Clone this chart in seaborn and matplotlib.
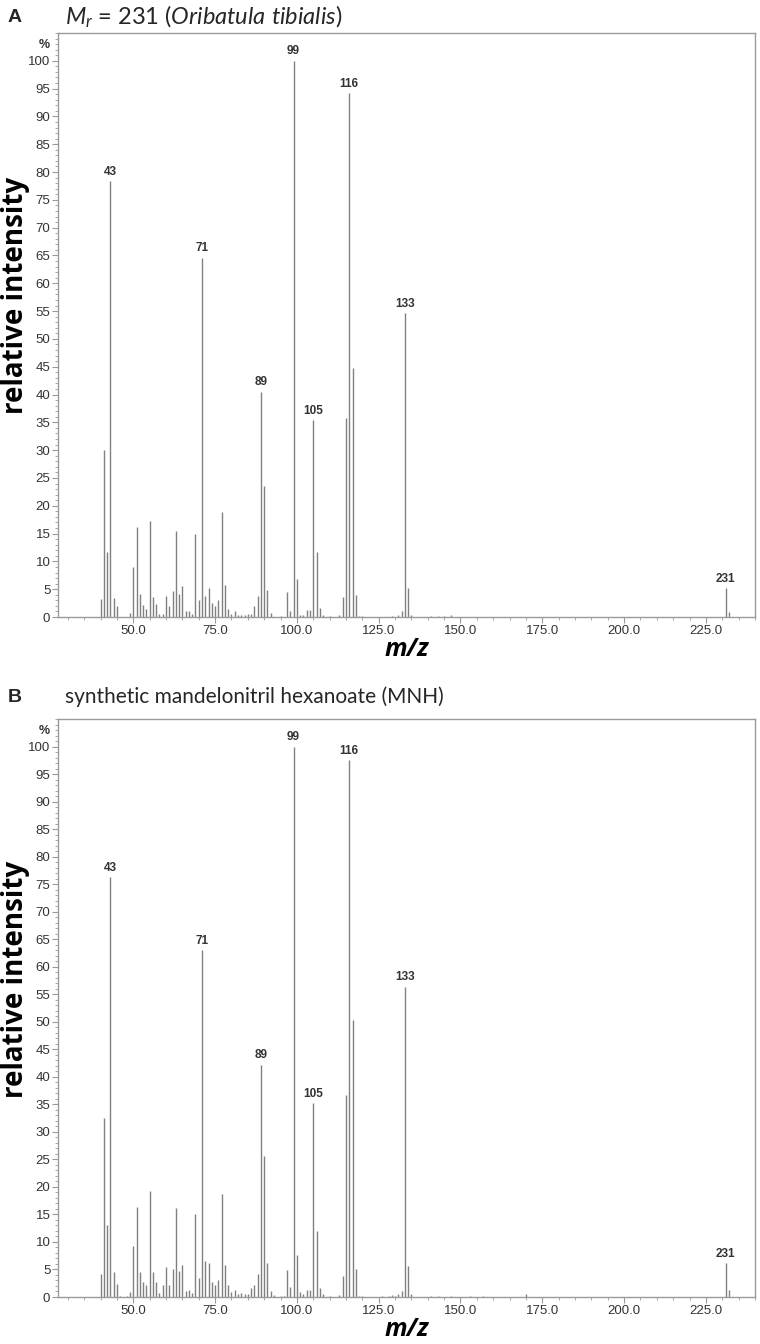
import matplotlib
matplotlib.use("Agg")
import matplotlib.pyplot as plt
import numpy as np
import pandas as pd
import seaborn as sns
from matplotlib.ticker import MultipleLocator, FormatStrFormatter

# ---------------- data ----------------
mz_a = [40, 41, 42, 43, 44, 45, 49, 50, 51, 52, 53, 54, 55, 56, 57, 58, 59, 60,
        61, 62, 63, 64, 65, 66, 67, 68, 69, 70, 71, 72, 73, 74, 75, 76, 77, 78,
        79, 80, 81, 82, 83, 84, 85, 86, 87, 88, 89, 90, 91, 92, 95, 97, 98, 99,
        100, 101, 102, 103, 104, 105, 106, 107, 108, 110, 113, 114, 115, 116,
        117, 118, 119, 120, 129, 131, 132, 133, 134, 135, 141, 143, 145, 147,
        231, 232]
int_a = [3.3, 30.0, 11.7, 78.4, 3.4, 2.0, 0.8, 8.9, 16.1, 4.1, 2.2, 1.5, 17.2,
         3.6, 2.4, 0.5, 0.5, 3.7, 2.0, 4.7, 15.5, 4.2, 5.5, 1.0, 1.0, 0.6, 15.0,
         3.0, 64.6, 3.8, 5.2, 2.6, 2.0, 3.0, 18.8, 5.7, 1.5, 0.5, 1.0, 0.4, 0.4,
         0.4, 0.6, 0.6, 2.0, 3.8, 40.5, 23.6, 4.9, 0.7, 0.2, 4.5, 1.1, 100.0,
         6.8, 0.4, 0.3, 1.2, 1.2, 35.4, 11.7, 1.7, 0.3, 0.2, 0.4, 3.6, 35.8,
         94.2, 44.8, 4.0, 0.2, 0.2, 0.2, 0.4, 1.0, 54.6, 5.2, 0.4, 0.2, 0.2,
         0.2, 0.3, 5.2, 0.9]
labels_a = [43, 71, 89, 99, 105, 116, 133, 231]

mz_b = [40, 41, 42, 43, 44, 45, 46, 48, 49, 50, 51, 52, 53, 54, 55, 56, 57, 58,
        59, 60, 61, 62, 63, 64, 65, 66, 67, 68, 69, 70, 71, 72, 73, 74, 75, 76,
        77, 78, 79, 80, 81, 82, 83, 84, 85, 86, 87, 88, 89, 90, 91, 92, 93, 95,
        96, 97, 98, 99, 100, 101, 102, 103, 104, 105, 106, 107, 108, 110, 113,
        114, 115, 116, 117, 118, 119, 120, 126, 128, 129, 130, 131, 132, 133,
        134, 135, 141, 143, 147, 153, 157, 170, 231, 232]
int_b = [4.2, 32.6, 13.0, 76.3, 4.6, 2.4, 0.2, 0.1, 0.85, 9.2, 16.3, 4.5, 2.7,
         2.1, 19.3, 4.5, 2.7, 0.7, 2.2, 5.4, 2.2, 5.1, 16.1, 4.8, 5.9, 1.1, 1.2,
         0.8, 15.1, 3.4, 63.0, 6.5, 6.1, 2.7, 2.2, 3.0, 18.8, 5.9, 2.2, 0.85,
         1.2, 0.5, 0.7, 0.5, 0.5, 1.6, 2.1, 4.2, 42.2, 25.6, 6.2, 1.0, 0.4, 0.2,
         0.2, 4.9, 1.75, 100.0, 7.7, 0.85, 0.5, 1.3, 1.3, 35.2, 11.9, 1.6, 0.6,
         0.1, 0.3, 3.9, 36.7, 97.5, 50.3, 5.1, 0.2, 0.15, 0.15, 0.15, 0.3, 0.15,
         0.5, 1.1, 56.4, 5.7, 0.6, 0.15, 0.15, 0.15, 0.15, 0.15, 0.6, 6.2, 1.2]
labels_b = [43, 71, 89, 99, 105, 116, 133, 231]

x_ticks = [50, 75, 100, 125, 150, 175, 200, 225]
y_ticks = list(range(0, 101, 5))
title_a = r"$M_r$ = 231 ($Oribatula\ tibialis$)"
title_b = "synthetic mandelonitril hexanoate (MNH)"

# ---------------- style ----------------
sns.set_theme(style="ticks")
plt.rcParams['font.family'] = ['Liberation Sans', 'DejaVu Sans']
plt.rcParams['mathtext.fontset'] = 'custom'
plt.rcParams['mathtext.rm'] = 'Lato'
plt.rcParams['mathtext.it'] = 'Lato:italic'

SPINE = '#9a9a9a'
BAR = '#808080'
TXT = '#333333'

fig = plt.figure(figsize=(7.6, 13.44), dpi=100)
axA = fig.add_axes([58/760, 1-617/1344, 697/760, 584/1344])
axB = fig.add_axes([58/760, 1-1297/1344, 697/760, 578/1344])


def draw(ax, mz, inten, labels):
    df = pd.DataFrame({'mz': mz, 'intensity': inten})
    ax.vlines(df['mz'], 0, df['intensity'], color=BAR, lw=1.0)
    for m in labels:
        v = df.loc[df['mz'] == m, 'intensity'].iloc[0]
        ax.text(m, v + 0.6, str(m), ha='center', va='bottom', fontsize=8.5,
                fontweight='bold', color=TXT)
    ax.set_xlim(27, 240)
    ax.set_ylim(0, 105)
    ax.set_xticks(x_ticks)
    ax.set_yticks(y_ticks)
    ax.xaxis.set_major_formatter(FormatStrFormatter('%.1f'))
    ax.xaxis.set_minor_locator(MultipleLocator(5))
    ax.yaxis.set_minor_locator(MultipleLocator(1))
    for s in ax.spines.values():
        s.set_color(SPINE)
        s.set_linewidth(1.0)
        s.set_visible(True)
    ax.tick_params(axis='both', which='major', length=4, width=0.8,
                   color=SPINE, labelsize=9.5, labelcolor=TXT, pad=1.5)
    ax.tick_params(axis='both', which='minor', length=2, width=0.6,
                   color=SPINE)
    ax.set_ylabel('relative intensity', fontsize=20, fontweight='bold',
                  family='Open Sans', color='black')
    ax.yaxis.set_label_coords(-0.040, 0.55)
    ax.set_xlabel('m/z', fontsize=18, fontweight='bold', style='italic',
                  family='Open Sans', color='black')
    ax.xaxis.set_label_coords(0.5, -0.034)
    ax.text(-0.019, 0.979, '%', transform=ax.transAxes, ha='center',
            va='center', fontsize=9, fontweight='bold', color=TXT)
    ax.grid(False)


draw(axA, mz_a, int_a, labels_a)
draw(axB, mz_b, int_b, labels_b)

fig.text(8/760, 1-17/1344, 'A', fontsize=14, fontweight='bold',
         ha='left', va='center')
fig.text(65/760, 1-17/1344, title_a, fontsize=17, family='Lato',
         ha='left', va='center')
fig.text(8/760, 1-697/1344, 'B', fontsize=14, fontweight='bold',
         ha='left', va='center')
fig.text(65/760, 1-697/1344, title_b, fontsize=15, family='Lato',
         ha='left', va='center')

fig.savefig('out.png', dpi=100)
